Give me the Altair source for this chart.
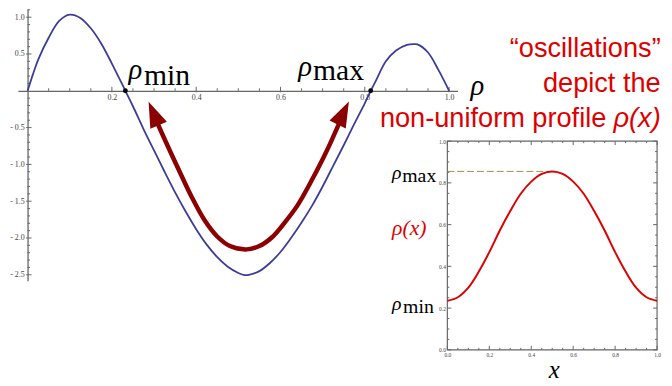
import altair as alt
import pandas as pd

W, H = 664, 378

# ---------------- data ----------------
BLUE_X = [0, 0.0125, 0.025, 0.05, 0.075, 0.1, 0.125, 0.15, 0.175, 0.2, 0.232, 0.25, 0.275,
          0.3, 0.325, 0.35, 0.375, 0.4, 0.425, 0.45, 0.475, 0.5, 0.515, 0.525, 0.55,
          0.575, 0.6, 0.625, 0.65, 0.675, 0.7, 0.725, 0.75, 0.775, 0.8, 0.814, 0.825,
          0.85, 0.875, 0.9, 0.917, 0.925, 0.95, 0.975, 1.0]
BLUE_Y = [0, 0.22, 0.42, 0.72, 0.95, 1.035, 0.99, 0.85, 0.64, 0.37, 0, -0.21, -0.52,
          -0.81, -1.10, -1.38, -1.64, -1.88, -2.09, -2.26, -2.39, -2.475, -2.505, -2.50, -2.45,
          -2.34, -2.19, -2.00, -1.79, -1.56, -1.30, -1.02, -0.74, -0.45, -0.17, 0, 0.12,
          0.40, 0.55, 0.625, 0.634, 0.63, 0.52, 0.28, 0]

ARROW_X = [0.305, 0.33, 0.36, 0.39, 0.42, 0.45, 0.48, 0.52, 0.55, 0.58, 0.61, 0.64,
           0.67, 0.70, 0.72, 0.741]
ARROW_Y = [-0.40, -0.72, -1.09, -1.45, -1.76, -1.98, -2.11, -2.155, -2.11, -1.99, -1.79,
           -1.56, -1.26, -0.93, -0.69, -0.42]
HEAD_X = [0.299, 0.749]
HEAD_Y = [-0.309, -0.302]

ROOT_X = [0.232, 0.814]
ROOT_Y = [0, 0]

RHO_X = [0, 0.05, 0.1, 0.15, 0.2, 0.25, 0.3, 0.35, 0.4, 0.45, 0.5,
         0.55, 0.6, 0.65, 0.7, 0.75, 0.8, 0.85, 0.9, 0.95, 1.0]
RHO_Y = [0.235, 0.252, 0.298, 0.375, 0.468, 0.572, 0.665, 0.748, 0.806, 0.843, 0.855,
         0.843, 0.806, 0.748, 0.665, 0.572, 0.468, 0.375, 0.298, 0.252, 0.235]

MAIN_X_LABELS = [0.2, 0.4, 0.6, 0.8, 1.0]
MAIN_Y_LABELS = [-2.5, -2.0, -1.5, -1.0, -0.5, 0.5, 1.0]
MAIN_X_MINOR = [0.05, 0.1, 0.15, 0.25, 0.3, 0.35, 0.45, 0.5, 0.55, 0.65, 0.7, 0.75,
                0.85, 0.9, 0.95]
MAIN_Y_MINOR = [-2.4, -2.3, -2.2, -2.1, -1.9, -1.8, -1.7, -1.6, -1.4, -1.3, -1.2, -1.1,
                -0.9, -0.8, -0.7, -0.6, -0.4, -0.3, -0.2, -0.1, 0.1, 0.2, 0.3, 0.4,
                0.6, 0.7, 0.8, 0.9, 1.1]
INSET_MAJOR = [0.0, 0.2, 0.4, 0.6, 0.8, 1.0]
INSET_MINOR = [0.05, 0.1, 0.15, 0.25, 0.3, 0.35, 0.45, 0.5, 0.55, 0.65, 0.7, 0.75,
               0.85, 0.9, 0.95]

ONE = pd.DataFrame({"k": [0]})
blue_df = pd.DataFrame({"x": BLUE_X, "y": BLUE_Y})
arrow_df = pd.DataFrame({"x": ARROW_X, "y": ARROW_Y})
root_df = pd.DataFrame({"x": ROOT_X, "y": ROOT_Y})
rho_df = pd.DataFrame({"x": RHO_X, "y": RHO_Y})

AXIS_GRAY = "#666666"
LABEL_GRAY = "#444444"
SERIF = "Liberation Serif"
SANS = "Liberation Sans"
RED = "#dd0000"
DARKRED = "#8b0000"
BLUE = "#3d3d99"
SMOOTH = "catmull-rom"

# ---------------- main plot scales / axes ----------------
SX = alt.Scale(domain=[-0.023, 1.020], range=[10, 455], nice=False, zero=False)
SY = alt.Scale(domain=[-2.58, 1.11], range=[273.7, -1.2], nice=False, zero=False)
AXM = alt.Axis(orient="bottom", offset=81.5 - H, values=MAIN_X_LABELS, ticks=False,
               grid=False, title=None, format=".1f", labelFont=SERIF, labelFontSize=8,
               labelColor=LABEL_GRAY, labelPadding=3, labelFlush=False, labelOverlap=False,
               domainColor=AXIS_GRAY, domainWidth=1.3)
AYM = alt.Axis(orient="left", offset=-19.8, values=MAIN_Y_LABELS, ticks=False,
               grid=False, title=None,
               labelExpr="datum.value < 0 ? '- ' + format(-datum.value, '.1f') : format(datum.value, '.1f')",
               labelFont=SERIF, labelFontSize=8, labelColor=LABEL_GRAY, labelPadding=3.5,
               labelFlush=False, labelOverlap=False,
               domainColor=AXIS_GRAY, domainWidth=1.3)


def mx(f):
    return alt.X(f, type="quantitative", scale=SX, axis=AXM)


def my(f):
    return alt.Y(f, type="quantitative", scale=SY, axis=AYM)


def mxd(v):
    return alt.XDatum(v, type="quantitative", scale=SX, axis=AXM)


def myd(v):
    return alt.YDatum(v, type="quantitative", scale=SY, axis=AYM)


blue = alt.Chart(blue_df).mark_line(color=BLUE, strokeWidth=1.8, interpolate=SMOOTH).encode(
    x=mx("x"), y=my("y"))
arrow = alt.Chart(arrow_df).mark_line(color=DARKRED, strokeWidth=4.5, interpolate=SMOOTH,
                                      strokeCap="butt").encode(x=mx("x"), y=my("y"))
HEAD_PATH = "M0,-1L0.7,1L-0.7,1Z"
head_l = alt.Chart(ONE).mark_point(shape=HEAD_PATH, filled=True, opacity=1, size=676,
                                   angle=337, color=DARKRED, strokeWidth=0).encode(
    x=mxd(HEAD_X[0]), y=myd(HEAD_Y[0]))
head_r = alt.Chart(ONE).mark_point(shape=HEAD_PATH, filled=True, opacity=1, size=676,
                                   angle=26, color=DARKRED, strokeWidth=0).encode(
    x=mxd(HEAD_X[1]), y=myd(HEAD_Y[1]))
dots = alt.Chart(root_df).mark_circle(color="black", size=24, opacity=1).encode(
    x=mx("x"), y=my("y"))

xmaj = alt.Chart(pd.DataFrame({"t": MAIN_X_LABELS})).mark_rule(
    color=AXIS_GRAY, strokeWidth=1, yOffset=1.5, y2Offset=-4).encode(
    x=mx("t"), y=myd(0), y2=alt.Y2Datum(0))
xmin = alt.Chart(pd.DataFrame({"t": MAIN_X_MINOR})).mark_rule(
    color=AXIS_GRAY, strokeWidth=1, y2Offset=-2.5).encode(
    x=mx("t"), y=myd(0), y2=alt.Y2Datum(0))
ymaj = alt.Chart(pd.DataFrame({"t": MAIN_Y_LABELS})).mark_rule(
    color=AXIS_GRAY, strokeWidth=1, xOffset=-1.5, x2Offset=4).encode(
    y=my("t"), x=mxd(0), x2=alt.X2Datum(0))
ymin = alt.Chart(pd.DataFrame({"t": MAIN_Y_MINOR})).mark_rule(
    color=AXIS_GRAY, strokeWidth=1, x2Offset=2.5).encode(
    y=my("t"), x=mxd(0), x2=alt.X2Datum(0))


def mtext(txt, x, y, size, font=SERIF, style="normal", color="black", align="left"):
    return alt.Chart(ONE).mark_text(text=txt, font=font, fontSize=size, fontStyle=style,
                                    color=color, align=align, baseline="alphabetic").encode(
        x=mxd(x), y=myd(y))


main_texts = [
    mtext("ρ", 0.2396, 0.158, 29, style="italic"),
    mtext("min", 0.276, 0.083, 30),
    mtext("ρ", 0.642, 0.203, 29, style="italic"),
    mtext("max", 0.677, 0.145, 30),
    mtext("ρ", 1.051, -0.063, 29, style="italic"),
    mtext("“oscillations”", 1.502, 0.463, 27.5, font=SANS, color=RED, align="right"),
    mtext("depict the", 1.502, -0.016, 27.5, font=SANS, color=RED, align="right"),
    mtext("non-uniform profile", 1.373, -0.497, 27.5, font=SANS, color=RED, align="right"),
    mtext("ρ(x)", 1.502, -0.497, 27.5, font=SANS, style="italic", color=RED, align="right"),
]

main_layer = alt.layer(xmin, xmaj, ymin, ymaj, blue, arrow, head_l, head_r, dots, *main_texts)

# ---------------- inset scales / axes ----------------
SXI = alt.Scale(domain=[0, 1], range=[444.7, 657], nice=False, zero=False)
SYI = alt.Scale(domain=[0, 1], range=[343.7, 132.45], nice=False, zero=False)
AXI = alt.Axis(orient="bottom", offset=343.7 - H, values=INSET_MAJOR, ticks=False, domain=False,
               grid=False, title=None, format=".1f", labelFont=SERIF, labelFontSize=5.5,
               labelColor=LABEL_GRAY, labelPadding=3, labelFlush=False, labelOverlap=False)
AYI = alt.Axis(orient="left", offset=-444.7, values=INSET_MAJOR, ticks=False, domain=False,
               grid=False, title=None, format=".1f", labelFont=SERIF, labelFontSize=5.5,
               labelColor=LABEL_GRAY, labelPadding=2, labelFlush=False, labelOverlap=False)


def ix(f):
    return alt.X(f, type="quantitative", scale=SXI, axis=AXI)


def iy(f):
    return alt.Y(f, type="quantitative", scale=SYI, axis=AYI)


def ixd(v):
    return alt.XDatum(v, type="quantitative", scale=SXI, axis=AXI)


def iyd(v):
    return alt.YDatum(v, type="quantitative", scale=SYI, axis=AYI)


frame = alt.Chart(ONE).mark_rect(filled=False, color=AXIS_GRAY, strokeWidth=1.2).encode(
    x=ixd(0), x2=alt.X2Datum(1), y=iyd(0), y2=alt.Y2Datum(1))

inset_ticks = []
for vals, ln in ((INSET_MAJOR, 4), (INSET_MINOR, 2)):
    tdf = pd.DataFrame({"t": vals})
    inset_ticks += [
        alt.Chart(tdf).mark_rule(color=AXIS_GRAY, strokeWidth=1, x2Offset=ln).encode(
            y=iy("t"), x=ixd(0), x2=alt.X2Datum(0)),
        alt.Chart(tdf).mark_rule(color=AXIS_GRAY, strokeWidth=1, x2Offset=-ln).encode(
            y=iy("t"), x=ixd(1), x2=alt.X2Datum(1)),
        alt.Chart(tdf).mark_rule(color=AXIS_GRAY, strokeWidth=1, y2Offset=-ln).encode(
            x=ix("t"), y=iyd(0), y2=alt.Y2Datum(0)),
        alt.Chart(tdf).mark_rule(color=AXIS_GRAY, strokeWidth=1, y2Offset=ln).encode(
            x=ix("t"), y=iyd(1), y2=alt.Y2Datum(1)),
    ]

dash = alt.Chart(ONE).mark_rule(color="#9b8d4e", strokeWidth=1, strokeDash=[7, 3]).encode(
    x=ixd(0), x2=alt.X2Datum(0.5), y=iyd(max(RHO_Y)))
rho = alt.Chart(rho_df).mark_line(color=RED, strokeWidth=2, interpolate=SMOOTH).encode(
    x=ix("x"), y=iy("y"))


def itext(txt, x, y, size, style="normal", color="black", align="left"):
    return alt.Chart(ONE).mark_text(text=txt, font=SERIF, fontSize=size, fontStyle=style,
                                    color=color, align=align, baseline="alphabetic").encode(
        x=ixd(x), y=iyd(y))


inset_texts = [
    itext("ρ", -0.264, 0.818, 20, style="italic"),
    itext("max", -0.215, 0.803, 20),
    itext("ρ", -0.264, 0.193, 20, style="italic"),
    itext("min", -0.211, 0.178, 20),
    itext("ρ(x)", -0.264, 0.548, 22, style="italic", color=RED),
    itext("x", 0.51, -0.137, 25, style="italic", align="center"),
]

inset_layer = alt.layer(frame, *inset_ticks, dash, rho, *inset_texts)

chart = alt.layer(main_layer, inset_layer).resolve_scale(
    x="independent", y="independent").properties(
    width=W, height=H, autosize=alt.AutoSizeParams(type="none"), padding=0,
    background="white").configure_view(stroke=None)

chart.save("out.html", embed_options={"renderer": "svg", "actions": False})
